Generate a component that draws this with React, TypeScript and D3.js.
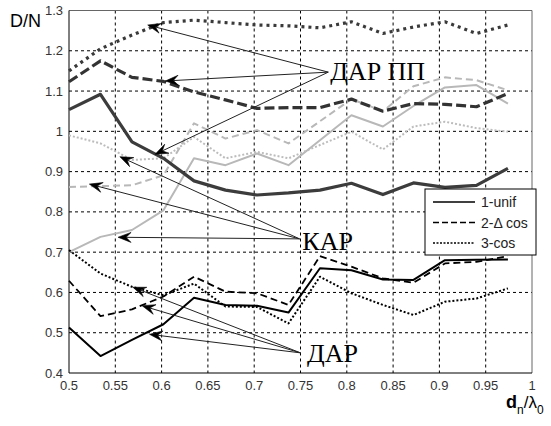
import React from "react";
import * as d3 from "d3";

// Relative spacing d_n / λ0 at which the arrays were evaluated
const xValues = [0.5, 0.534, 0.568, 0.602, 0.635, 0.669, 0.703, 0.737, 0.771, 0.805, 0.839, 0.872, 0.906, 0.94, 0.974];

// ДАР
const darUnif = [0.513, 0.442, 0.482, 0.521, 0.587, 0.569, 0.567, 0.55, 0.66, 0.655, 0.632, 0.631, 0.68, 0.681, 0.682];
const darDcos = [0.629, 0.541, 0.558, 0.59, 0.639, 0.602, 0.598, 0.569, 0.69, 0.664, 0.635, 0.624, 0.672, 0.676, 0.69];
const darCos = [0.705, 0.647, 0.614, 0.593, 0.622, 0.565, 0.564, 0.523, 0.639, 0.598, 0.569, 0.544, 0.577, 0.585, 0.61];

// ДАР ПП
const darppUnif = [1.054, 1.092, 0.974, 0.933, 0.877, 0.854, 0.842, 0.847, 0.854, 0.871, 0.843, 0.872, 0.861, 0.866, 0.908];
const darppDcos = [1.123, 1.175, 1.134, 1.124, 1.098, 1.078, 1.057, 1.059, 1.059, 1.08, 1.05, 1.069, 1.067, 1.061, 1.094];
const darppCos = [1.15, 1.205, 1.239, 1.27, 1.276, 1.27, 1.264, 1.262, 1.257, 1.272, 1.243, 1.259, 1.272, 1.243, 1.264];

// КАР
const karUnif = [0.7, 0.738, 0.755, 0.804, 0.933, 0.916, 0.945, 0.916, 0.978, 1.04, 1.012, 1.063, 1.109, 1.115, 1.069];
const karDcos = [0.862, 0.864, 0.866, 0.891, 1.02, 0.982, 1.003, 0.97, 1.025, 1.08, 1.05, 1.112, 1.134, 1.127, 1.102];
const karCos = [0.99, 0.97, 0.929, 0.933, 0.986, 0.933, 0.949, 0.933, 0.966, 0.999, 0.955, 1.012, 1.024, 1.008, 0.999];

const xTicks = [0.5, 0.55, 0.6, 0.65, 0.7, 0.75, 0.8, 0.85, 0.9, 0.95, 1];
const xTickLabels = ["0.5", "0.55", "0.6", "0.65", "0.7", "0.75", "0.8", "0.85", "0.9", "0.95", "1"];
const yTicks = [0.4, 0.5, 0.6, 0.7, 0.8, 0.9, 1.0, 1.1, 1.2, 1.3];
const yTickLabels = ["0.4", "0.5", "0.6", "0.7", "0.8", "0.9", "1", "1.1", "1.2", "1.3"];

const legendLabels = ["1-unif", "2-\u0394 cos", "3-cos"];

// Callout labels (data coordinates) and the curve points their arrows indicate
const calloutNames = ["ДАР ПП", "КАР", "ДАР"];
const calloutText = [[0.782, 1.128], [0.752, 0.705], [0.757, 0.427]];
const calloutOrigin = [[0.78, 1.147], [0.749, 0.733], [0.75, 0.45]];
const calloutTips = [
  [[0.585, 1.264], [0.604, 1.125], [0.593, 0.943]],
  [[0.555, 0.937], [0.522, 0.869], [0.553, 0.737]],
  [[0.569, 0.613], [0.579, 0.567], [0.587, 0.496]],
];

const W = 551;
const H = 426;
const left = 69;
const right = 532;
const top = 10.5;
const bottom = 373;

const x = d3.scaleLinear().domain([0.5, 1]).range([left, right]);
const y = d3.scaleLinear().domain([0.4, 1.3]).range([bottom, top]);

const line = d3
  .line<number>()
  .x((_, i) => x(xValues[i]))
  .y((d) => y(d));

type SeriesStyle = { values: number[]; color: string; width: number; dash?: string };

const series: SeriesStyle[] = [
  { values: karUnif, color: "#b8b8b8", width: 2 },
  { values: karDcos, color: "#b8b8b8", width: 2, dash: "7,4" },
  { values: karCos, color: "#bcbcbc", width: 2, dash: "2,2" },
  { values: darppUnif, color: "#3c3c3c", width: 3.2 },
  { values: darppDcos, color: "#333", width: 3.2, dash: "10,4" },
  { values: darppCos, color: "#3a3a3a", width: 3.2, dash: "3,4" },
  { values: darUnif, color: "#000", width: 2 },
  { values: darDcos, color: "#000", width: 1.8, dash: "7,4" },
  { values: darCos, color: "#000", width: 2, dash: "2,2" },
];

const serif = { fontFamily: '"Liberation Serif", "Times New Roman", "DejaVu Serif", serif' };
const sans = { fontFamily: '"Liberation Sans", Arial, Helvetica, sans-serif' };

function Arrow({ from, to }: { from: [number, number]; to: [number, number] }) {
  const [x0, y0] = from;
  const [x1, y1] = to;
  const ang = Math.atan2(y1 - y0, x1 - x0);
  const L = 13;
  const hw = 5;
  const notch = 8;
  const c = Math.cos(ang);
  const s = Math.sin(ang);
  const pt = (a: number, b: number) => `${x1 + a * c - b * s},${y1 + a * s + b * c}`;
  const head = `M${pt(0, 0)} L${pt(-L, -hw)} L${pt(-notch, 0)} L${pt(-L, hw)} Z`;
  const bx = x1 - notch * c;
  const by = y1 - notch * s;
  return (
    <g>
      <line x1={x0} y1={y0} x2={bx} y2={by} stroke="#222" strokeWidth={1} />
      <path d={head} fill="#000" stroke="#000" strokeWidth={0.6} />
    </g>
  );
}

export default function App() {
  const legendX = 425;
  const legendY = 189;
  const legendDash = [undefined, "6,3", "2,1.5"];
  return (
    <svg width={W} height={H} style={{ position: "absolute", left: 0, top: 0, background: "#fff", ...sans }}>
      <rect x={0} y={0} width={W} height={H} fill="#fff" />
      {/* grid */}
      {xTicks.slice(1, -1).map((t) => (
        <line key={"gx" + t} x1={x(t)} x2={x(t)} y1={top} y2={bottom} stroke="#000" strokeWidth={1} strokeDasharray="3,3" />
      ))}
      {yTicks.slice(1, -1).map((t) => (
        <line key={"gy" + t} x1={left} x2={right} y1={y(t)} y2={y(t)} stroke="#000" strokeWidth={1} strokeDasharray="3,3" />
      ))}
      {/* axes box */}
      <line x1={left} x2={right} y1={top} y2={top} stroke="#666" />
      <line x1={right} x2={right} y1={top} y2={bottom} stroke="#666" />
      <line x1={left} x2={left} y1={top} y2={bottom} stroke="#000" />
      <line x1={left} x2={right} y1={bottom} y2={bottom} stroke="#000" />

      {/* tick labels */}
      {yTicks.map((t, i) => (
        <text key={"yl" + t} x={left - 6} y={y(t) + 4.5} textAnchor="end" fontSize={13} fill="#333" style={sans}>
          {yTickLabels[i]}
        </text>
      ))}
      {xTicks.map((t, i) => (
        <text key={"xl" + t} x={x(t)} y={bottom + 17} textAnchor="middle" fontSize={13} fill="#333" style={sans}>
          {xTickLabels[i]}
        </text>
      ))}

      {/* axis titles */}
      <text x={10} y={27} fontSize={18} fill="#000" style={sans}>D/N</text>
      <text x={506} y={408} fontSize={18} fontWeight="bold" fill="#000" style={sans}>
        d
        <tspan fontSize={12} fontWeight="normal" dy={6}>n</tspan>
        <tspan fontSize={17} fontWeight="normal" dy={-6}>/λ</tspan>
        <tspan fontSize={12} fontWeight="normal" dy={6}>0</tspan>
      </text>

      {/* curves */}
      {series.map((s, i) => (
        <path
          key={"s" + i}
          d={line(s.values) || ""}
          fill="none"
          stroke={s.color}
          strokeWidth={s.width}
          strokeDasharray={s.dash}
          strokeLinejoin="round"
        />
      ))}

      {/* callouts */}
      {calloutNames.map((name, gi) => {
        const o: [number, number] = [x(calloutOrigin[gi][0]), y(calloutOrigin[gi][1])];
        return (
          <g key={"c" + gi}>
            {calloutTips[gi].map((tp, ti) => (
              <Arrow key={ti} from={o} to={[x(tp[0]), y(tp[1])]} />
            ))}
            <text x={x(calloutText[gi][0])} y={y(calloutText[gi][1])} fontSize={26} fill="#000" style={serif}>
              {name}
            </text>
          </g>
        );
      })}

      {/* legend */}
      <rect x={legendX} y={legendY} width={111} height={66} fill="#fff" stroke="#000" strokeWidth={1} />
      {legendLabels.map((lab, i) => {
        const ly = legendY + 13 + i * 20.5;
        return (
          <g key={"lg" + i}>
            <line x1={433} x2={475} y1={ly} y2={ly} stroke="#000" strokeWidth={1.5} strokeDasharray={legendDash[i]} />
            <text x={481} y={ly + 5} fontSize={14} fill="#222" style={sans}>
              {lab}
            </text>
          </g>
        );
      })}
    </svg>
  );
}
